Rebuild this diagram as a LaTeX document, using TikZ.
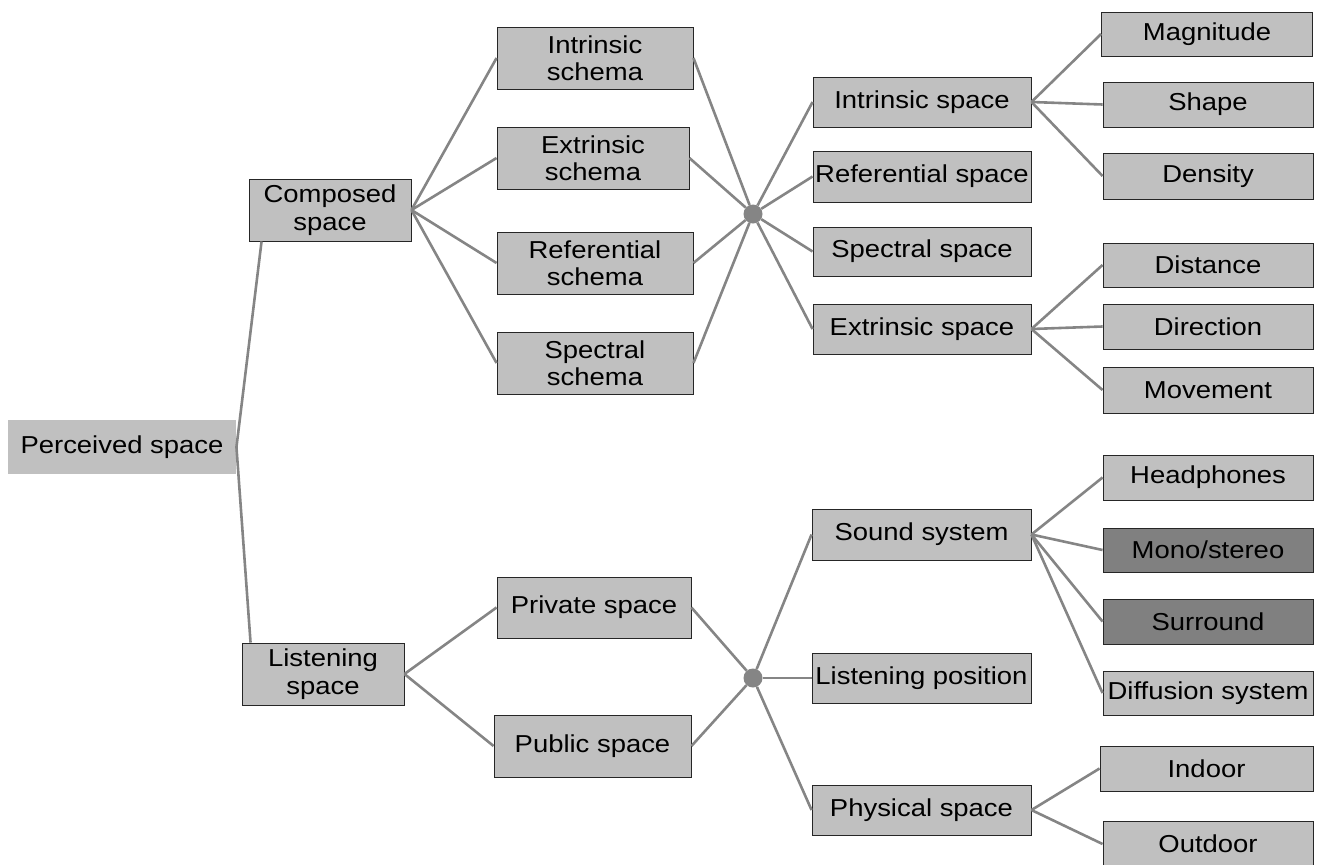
\documentclass[tikz,border=0pt]{standalone}
\usepackage{fontspec}
\setmainfont{Liberation Sans}[FakeStretch=1.12]
\begin{document}
\begin{tikzpicture}[x=1pt,y=-1pt,
  box/.style={draw=black!85,line width=0.9pt,fill=boxgray,inner sep=0pt,align=center,
    font=\fontsize{24.5}{27.5}\selectfont},
  darkbox/.style={box,fill=darkgray2},
  conn/.style={draw=linegray,line width=2.6pt},
  dot/.style={circle,fill=linegray,inner sep=0pt,minimum size=19pt}]
\definecolor{boxgray}{HTML}{C0C0C0}
\definecolor{darkgray2}{HTML}{808080}
\definecolor{linegray}{HTML}{858585}
\useasboundingbox (0,0) rectangle (1318,865);
\tikzset{wh/.style 2 args={minimum width=#1pt,minimum height=#2pt}}
% level 0
\node[box,draw=none,wh={228}{54}] (perc) at (122,447) {Perceived space};
% level 1
\node[box,wh={162}{62}] (comp) at (330,210) {Composed\\space};
\node[box,wh={162}{62}] (list) at (323,674) {Listening\\space};
% level 2
\node[box,wh={196}{62}] (isch) at (595,58) {Intrinsic\\schema};
\node[box,wh={192}{62}] (esch) at (593,158) {Extrinsic\\schema};
\node[box,wh={196}{62}] (rsch) at (595,263) {Referential\\schema};
\node[box,wh={196}{62}] (ssch) at (595,363) {Spectral\\schema};
\node[box,wh={194}{61}] (priv) at (594,607.5) {Private space};
\node[box,wh={197}{62}] (pub) at (592.5,746) {Public space};
% junctions
\node[dot] (d1) at (753,214) {};
\node[dot] (d2) at (753,678) {};
% level 3
\node[box,wh={218}{50}] (ispace) at (922,102) {Intrinsic space};
\node[box,wh={218}{51}] (rspace) at (922,176.5) {Referential space};
\node[box,wh={218}{49}] (sspace) at (922,251.5) {Spectral space};
\node[box,wh={218}{50}] (espace) at (922,329) {Extrinsic space};
\node[box,wh={219}{51}] (sound) at (921.5,534.5) {Sound system};
\node[box,wh={219}{50}] (lpos) at (921.5,678) {Listening position};
\node[box,wh={219}{50}] (phys) at (921.5,810) {Physical space};
% level 4
\node[box,wh={211}{44}] (mag) at (1207,34) {Magnitude};
\node[box,wh={210}{45}] (shape) at (1208,104.5) {Shape};
\node[box,wh={210}{46}] (dens) at (1208,176) {Density};
\node[box,wh={210}{44}] (dist) at (1208,265) {Distance};
\node[box,wh={210}{45}] (dir) at (1208,326.5) {Direction};
\node[box,wh={210}{46}] (mov) at (1208,390) {Movement};
\node[box,wh={210}{45}] (head) at (1208,477.5) {Headphones};
\node[darkbox,wh={210}{44}] (mono) at (1208,550) {Mono/stereo};
\node[darkbox,wh={210}{45}] (surr) at (1208,621.5) {Surround};
\node[box,wh={210}{44}] (diff) at (1208,693) {Diffusion system};
\node[box,wh={213}{45}] (indoor) at (1206.5,768.5) {Indoor};
\node[box,wh={210}{45}] (outdoor) at (1208,844) {Outdoor};
% connectors
\begin{scope}[every path/.style={conn}]
\draw ([xshift=13pt]comp.south west) -- (perc.east) -- ([xshift=9pt]list.north west);
\foreach \n in {isch,esch,rsch,ssch} \draw (comp.east) -- (\n.west);
\foreach \n in {isch,esch,rsch,ssch} \draw (\n.east) -- (d1);
\foreach \n in {ispace,rspace,sspace,espace} \draw (d1) -- (\n.west);
\foreach \n in {mag,shape,dens} \draw (ispace.east) -- (\n.west);
\foreach \n in {dist,dir,mov} \draw (espace.east) -- (\n.west);
\draw (list.east) -- (priv.west);
\draw (list.east) -- (pub.west);
\draw (priv.east) -- (d2);
\draw (pub.east) -- (d2);
\foreach \n in {sound,lpos,phys} \draw (d2) -- (\n.west);
\foreach \n in {head,mono,surr,diff} \draw (sound.east) -- (\n.west);
\foreach \n in {indoor,outdoor} \draw (phys.east) -- (\n.west);
\end{scope}
\end{tikzpicture}
\end{document}
